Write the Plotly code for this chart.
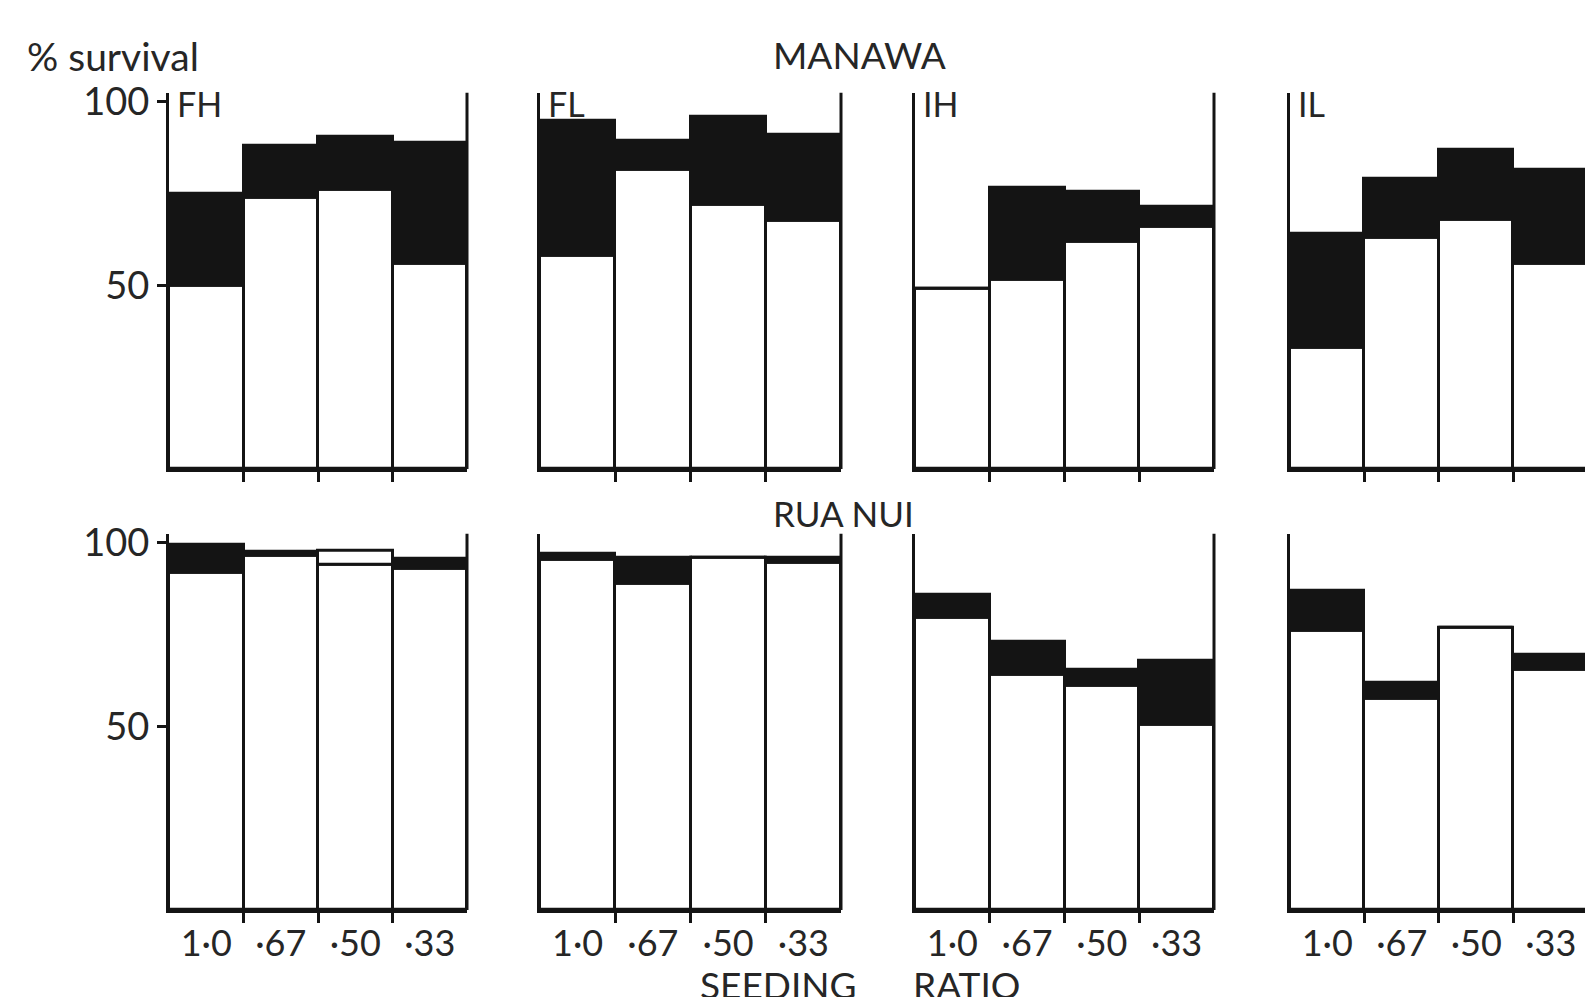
import plotly.graph_objects as go

# Seeding ratios (x categories)
ratios = ["1·0", "·67", "·50", "·33"]
panels = ["FH", "FL", "IH", "IL"]
sites = ["MANAWA", "RUA NUI"]
x_title = ["SEEDING", "RATIO"]

# % survival: "white" = lower (open) part, "total" = top of the bar (black band between)
manawa_fh_white = [50, 74, 76, 56]
manawa_fh_total = [75, 88, 90.5, 89]
manawa_fl_white = [58, 81.5, 72, 67.5]
manawa_fl_total = [95, 89.5, 96, 91]
manawa_ih_white = [49, 51.5, 62, 66]
manawa_ih_total = [49, 76.5, 75.5, 71.5]
manawa_il_white = [33, 63, 68, 56]
manawa_il_total = [64, 79, 87, 81.5]

ruanui_fh_white = [92, 96.5, 98, 93]
ruanui_fh_total = [99.5, 97.5, 94, 95.7]
ruanui_fl_white = [95.5, 89, 96, 94.5]
ruanui_fl_total = [97, 96, 96, 96]
ruanui_ih_white = [79.5, 64, 61, 50.5]
ruanui_ih_total = [86, 73, 65.5, 68]
ruanui_il_white = [76, 57.5, 77, 65.5]
ruanui_il_total = [87, 62, 77, 69.5]

y_ticks = [50, 100]
y_ticktext = ["50", "100"]

rows = [
    [(manawa_fh_white, manawa_fh_total), (manawa_fl_white, manawa_fl_total),
     (manawa_ih_white, manawa_ih_total), (manawa_il_white, manawa_il_total)],
    [(ruanui_fh_white, ruanui_fh_total), (ruanui_fl_white, ruanui_fl_total),
     (ruanui_ih_white, ruanui_ih_total), (ruanui_il_white, ruanui_il_total)],
]

W, H = 1585, 997
INK = "#141414"
TXT = "#262626"
FONT = "Lato"

def px_x(p):
    return p / W

def px_y(p):
    return 1 - p / H

col_px = [(169, 467), (540, 841), (915, 1214), (1290, 1585)]
row_px = [(92.8, 469), (533.8, 910)]
x_ranges = [[-0.5, 3.5], [-0.5, 3.5], [-0.5, 3.5], [-0.5, 3.46]]
y_range = [0, 102.5]

fig = go.Figure()
layout = {}
shapes = []
annotations = []
xpos = list(range(len(ratios)))

for r, row in enumerate(rows):
    for c, (white, total) in enumerate(row):
        idx = r * 4 + c + 1
        xa = "x" if idx == 1 else f"x{idx}"
        ya = "y" if idx == 1 else f"y{idx}"
        lower = [min(a, b) for a, b in zip(white, total)]
        band = [abs(b - a) for a, b in zip(white, total)]
        band_col = [INK if b > a else "white" for a, b in zip(white, total)]
        fig.add_trace(go.Bar(x=xpos, y=lower, base=0, width=1,
                             marker=dict(color="white", line=dict(color=INK, width=3)),
                             xaxis=xa, yaxis=ya, showlegend=False, hoverinfo="skip"))
        fig.add_trace(go.Bar(x=xpos, y=band, base=lower, width=1,
                             marker=dict(color=band_col, line=dict(color=INK, width=3)),
                             xaxis=xa, yaxis=ya, showlegend=False, hoverinfo="skip"))
        x0, x1 = col_px[c]
        yt, yb = row_px[r]
        xkey = "xaxis" if idx == 1 else f"xaxis{idx}"
        ykey = "yaxis" if idx == 1 else f"yaxis{idx}"
        layout[xkey] = dict(
            domain=[px_x(x0), px_x(x1)], anchor=ya, range=x_ranges[c],
            showgrid=False, zeroline=False, showline=True, linecolor=INK, linewidth=3,
            tickmode="array", tickvals=xpos, ticktext=ratios, ticks="", ticklen=0,
            showticklabels=(r == 1), ticklabelstandoff=0,
            tickfont=dict(family=FONT, size=36, color=TXT),
            minor=dict(tickmode="array", tickvals=[0.5, 1.5, 2.5], ticks="outside",
                       ticklen=10, tickwidth=3, tickcolor=INK, showgrid=False),
            fixedrange=True,
        )
        layout[ykey] = dict(
            domain=[px_y(yb), px_y(yt)], anchor=xa, range=y_range,
            showgrid=False, zeroline=False, showline=True, linecolor=INK, linewidth=3,
            tickmode="array", tickvals=y_ticks, ticktext=y_ticktext,
            ticks="outside" if c == 0 else "", ticklen=9, tickwidth=3, tickcolor=INK,
            showticklabels=(c == 0),
            tickfont=dict(family=FONT, size=38, color=TXT),
            fixedrange=True,
        )
        if c < 3:
            shapes.append(dict(type="line", xref=f"{xa} domain", yref=f"{ya} domain",
                               x0=1, x1=1, y0=0, y1=1, line=dict(color=INK, width=3)))
        if r == 0:
            annotations.append(dict(text=panels[c], xref=f"{xa} domain", yref=ya,
                                    x=0, y=99.5, xanchor="left", yanchor="middle",
                                    xshift=6, showarrow=False,
                                    font=dict(family=FONT, size=34, color=TXT)))

annotations += [
    dict(text="% survival", xref="paper", yref="paper", x=px_x(25), y=px_y(55.5),
         xanchor="left", yanchor="middle", showarrow=False,
         font=dict(family=FONT, size=39, color=TXT)),
    dict(text=sites[0], xref="paper", yref="paper", x=px_x(859), y=px_y(54),
         xanchor="center", yanchor="middle", showarrow=False,
         font=dict(family=FONT, size=37, color=TXT)),
    dict(text=sites[1], xref="paper", yref="paper", x=px_x(843), y=px_y(513),
         xanchor="center", yanchor="middle", showarrow=False,
         font=dict(family=FONT, size=35, color=TXT)),
    dict(text=x_title[0], xref="paper", yref="paper", x=px_x(859), y=px_y(960),
         xanchor="right", yanchor="top", showarrow=False,
         font=dict(family=FONT, size=37, color=TXT)),
    dict(text=x_title[1], xref="paper", yref="paper", x=px_x(911), y=px_y(960),
         xanchor="left", yanchor="top", showarrow=False,
         font=dict(family=FONT, size=37, color=TXT)),
]

fig.update_layout(
    width=W, height=H, margin=dict(l=0, r=0, t=0, b=0, autoexpand=False),
    paper_bgcolor="white", plot_bgcolor="white",
    barmode="overlay", bargap=0, showlegend=False,
    shapes=shapes, annotations=annotations, **layout,
)

fig.write_html("out.html", include_plotlyjs=True,
               config=dict(displayModeBar=False),
               post_script="document.body.style.margin='0';document.body.style.overflow='hidden';")
